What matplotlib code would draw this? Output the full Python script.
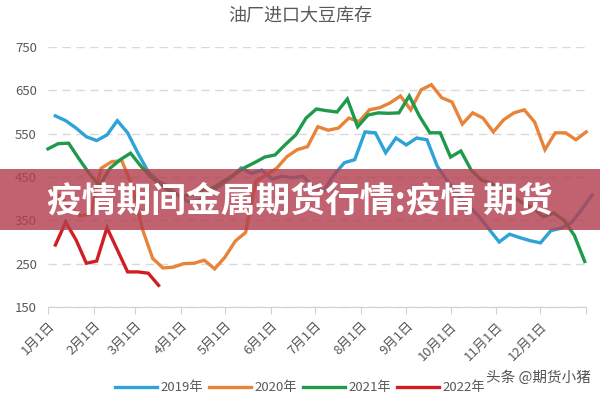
"""Soybean inventory at oil mills, with a banner overlay."""
import numpy as np
import matplotlib
matplotlib.use("Agg")
import matplotlib.pyplot as plt
from matplotlib.patches import Rectangle

plt.rcParams["font.family"] = ["Noto Sans CJK SC", "DejaVu Sans"]

TITLE = "油厂进口大豆库存"
BANNER = "疫情期间金属期货行情:疫情 期货"
WATERMARK = "头条 @期货小猪"

MONTH_LABELS = ["1月1日", "2月1日", "3月1日", "4月1日", "5月1日", "6月1日",
                "7月1日", "8月1日", "9月1日", "10月1日", "11月1日", "12月1日"]
MONTH_DAYS = [0, 31, 59, 90, 120, 151, 181, 212, 243, 273, 304, 334]

# weekly readings, first day of each series (day of year)
start_2019, start_2020, start_2021, start_2022 = 5, 1, 0, 5

v2019 = [591, 580, 563, 543, 534, 547, 580, 552, 505, 462, 440, 428, 405, 392,
         398, 415, 430, 448, 471, 458, 466, 445, 452, 448, 452, 425, 418, 455,
         483, 490, 554, 552, 506, 540, 524, 540, 536, 475, 440, 410, 385, 360,
         330, 300, 318, 310, 303, 298, 326, 332, 345, 375, 409]
v2020 = [420, 405, 380, 360, 365, 470, 485, 488, 430, 330, 262, 240, 242, 250,
         251, 258, 238, 265, 302, 322, 440, 455, 470, 497, 513, 520, 566, 558,
         563, 586, 578, 605, 610, 621, 637, 605, 651, 663, 633, 623, 572, 598,
         586, 554, 582, 598, 605, 577, 513, 552, 552, 536, 554]
v2021 = [515, 527, 528, 492, 458, 430, 470, 490, 505, 475, 450, 430, 415, 405,
         410, 420, 425, 440, 455, 471, 483, 496, 501, 525, 547, 586, 607, 603,
         600, 630, 566, 593, 598, 597, 598, 637, 590, 552, 552, 496, 510, 466,
         443, 435, 420, 405, 390, 378, 358, 367, 350, 315, 255]
v2022 = [293, 346, 305, 251, 256, 333, 282, 231, 231, 228, 200]

series = [("2019年", start_2019, v2019, "#2ea3d6"),
          ("2020年", start_2020, v2020, "#e8843a"),
          ("2021年", start_2021, v2021, "#1f9a4c"),
          ("2022年", start_2022, v2022, "#d01f24")]

fig = plt.figure(figsize=(6, 4), dpi=100, facecolor="white")
ax = fig.add_axes([0.08, 0.2325, 0.897, 0.65])

for label, start, values, color in series:
    days = start + 7 * np.arange(len(values))
    ax.plot(days, values, color=color, lw=2.4, label=label, clip_on=False,
            solid_joinstyle="miter")

ax.set_xlim(0, 365)
ax.set_ylim(150, 750)
ax.set_yticks(range(150, 751, 100))
ax.yaxis.grid(True, ls=(0, (6, 4)), color="#d9d9d9", lw=1)
ax.set_axisbelow(True)
for side in ["top", "right", "left"]:
    ax.spines[side].set_visible(False)
ax.spines["bottom"].set_color("#d0d0d0")
ax.tick_params(axis="y", length=0, labelsize=9.5, colors="#595959", pad=8)

ax.set_xticks(MONTH_DAYS + [365])
ax.set_xticklabels(MONTH_LABELS + [""], rotation=45, ha="right",
                   rotation_mode="anchor")
ax.tick_params(axis="x", length=5, color="#d0d0d0", labelsize=9.5,
               labelcolor="#595959", pad=4)

fig.text(0.5, 0.962, TITLE, ha="center", va="center", fontsize=13,
         color="#595959")

fig.legend(loc="center", bbox_to_anchor=(0.5, 0.03), ncol=4, frameon=False,
           fontsize=9.5, handlelength=3.2, handletextpad=0.3, columnspacing=0.4,
           labelcolor="#595959")

fig.patches.append(Rectangle((0, 0.425), 1, 0.153, transform=fig.transFigure,
                             facecolor="#b2404f", alpha=0.82, edgecolor="none",
                             zorder=5))
fig.text(0.5, 0.497, BANNER, ha="center", va="center", fontsize=25,
         fontweight="bold", color="white", zorder=6)

fig.text(0.985, 0.055, WATERMARK, ha="right", va="center", fontsize=10.5,
         color="#555555")

fig.savefig("out.png", dpi=100, facecolor="white")
